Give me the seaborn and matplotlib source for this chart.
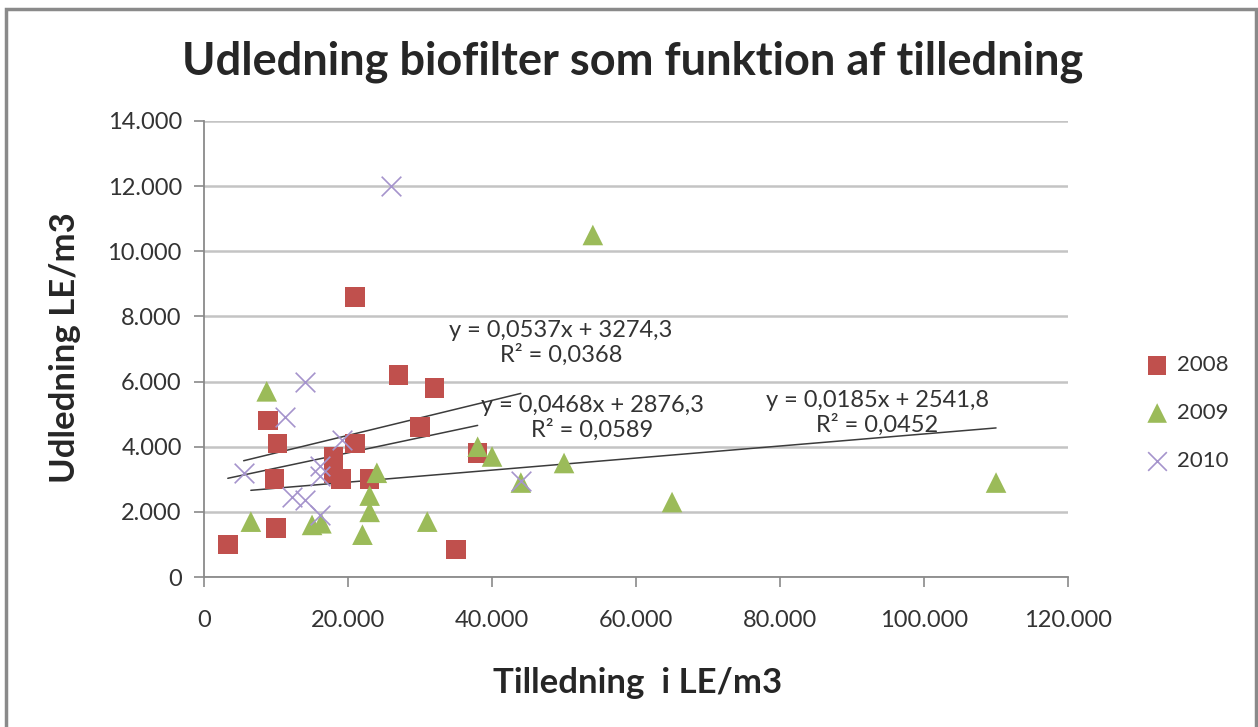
import numpy as np
import pandas as pd
import matplotlib
matplotlib.use("Agg")
import matplotlib.pyplot as plt
import seaborn as sns
from matplotlib.patches import Rectangle
from matplotlib.ticker import FuncFormatter

# punkter (tilledning, udledning) i LE/m3
x_2008 = [3300, 8900, 10200, 9800, 10000, 21000, 27000, 32000, 30000, 21000,
          18000, 18000, 19000, 23000, 35000, 38000]
y_2008 = [1000, 4800, 4100, 3000, 1500, 8600, 6200, 5800, 4600, 4100,
          3700, 3200, 3000, 3000, 850, 3800]

x_2009 = [8700, 6500, 15000, 16300, 24000, 23000, 23000, 22000, 31000, 54000,
          38000, 40000, 50000, 44000, 65000, 110000]
y_2009 = [5700, 1700, 1600, 1650, 3200, 2500, 2000, 1300, 1700, 10500,
          4000, 3700, 3500, 2900, 2300, 2900]

x_2010 = [26000, 14000, 11200, 5500, 19100, 16100, 16100, 12200, 14000, 16100, 44000]
y_2010 = [12000, 6000, 4900, 3200, 4200, 3400, 3100, 2450, 2350, 1900, 2950]

years = ["2008", "2009", "2010"]
slopes = [0.0468, 0.0185, 0.0537]
intercepts = [2876.3, 2541.8, 3274.3]
r2 = ["0,0589", "0,0452", "0,0368"]
eq_text = ["y = 0,0468x + 2876,3", "y = 0,0185x + 2541,8", "y = 0,0537x + 3274,3"]

df = pd.concat([
    pd.DataFrame({"x": x_2008, "y": y_2008, "aar": "2008"}),
    pd.DataFrame({"x": x_2009, "y": y_2009, "aar": "2009"}),
    pd.DataFrame({"x": x_2010, "y": y_2010, "aar": "2010"}),
])

sns.set_style("white")
plt.rcParams["font.family"] = ["Lato", "DejaVu Sans"]

fig = plt.figure(figsize=(12.58, 7.27), dpi=100)
ax = fig.add_axes([0.1622, 0.2063, 0.6868, 0.6273])

# ramme om hele diagrammet
fig.patches.append(Rectangle((6 / 1258, -0.02), 1250 / 1258, 1.0 - 9 / 727 + 0.02,
                             transform=fig.transFigure, fill=False,
                             edgecolor="#8a8a8a", linewidth=2.5))

ax.set_xlim(0, 120000)
ax.set_ylim(0, 14000)
ax.set_xticks(np.arange(0, 120001, 20000))
ax.set_yticks(np.arange(0, 14001, 2000))
ax.yaxis.grid(True, color="#c4c4c4", linewidth=1.8)
ax.set_axisbelow(True)

fmt = FuncFormatter(lambda v, p: f"{int(v):,}".replace(",", "."))
ax.xaxis.set_major_formatter(fmt)
ax.yaxis.set_major_formatter(fmt)

colors = {"2008": "#C0504D", "2009": "#9BBB59", "2010": "#A594CC"}

# trendlinjer
for yr, a, b in zip(years, slopes, intercepts):
    sub = df[df.aar == yr]
    xs = np.array([sub.x.min(), sub.x.max()])
    ax.plot(xs, a * xs + b, color="#3c3c3c", linewidth=1.1, zorder=3)

sns.scatterplot(data=df[df.aar == "2008"], x="x", y="y", marker="s", s=200,
                color=colors["2008"], edgecolor="none", label="2008", ax=ax, zorder=4)
sns.scatterplot(data=df[df.aar == "2009"], x="x", y="y", marker="^", s=220,
                color=colors["2009"], edgecolor="none", label="2009", ax=ax, zorder=4)
sns.scatterplot(data=df[df.aar == "2010"], x="x", y="y", marker="x", s=200,
                color=colors["2010"], linewidth=1.2, label="2010", ax=ax, zorder=5)

# ligninger
eq_pos = [(53900, 4877), (93470, 5035), (49580, 7185)]
for (px, py), e, r in zip(eq_pos, eq_text, r2):
    ax.text(px, py, e + "\nR² = " + r, ha="center", va="center", fontsize=17,
            color="#333333", linespacing=1.15, zorder=6)

for s in ["top", "right"]:
    ax.spines[s].set_visible(False)
ax.spines["left"].set_color("#8a8a8a")
ax.spines["bottom"].set_color("#8a8a8a")
ax.spines["left"].set_linewidth(1.3)
ax.spines["bottom"].set_linewidth(1.3)

ax.tick_params(axis="both", direction="out", length=7, width=1.2, color="#8a8a8a",
               labelsize=17, labelcolor="#333333", left=True, bottom=True)
ax.tick_params(axis="y", pad=9)
ax.tick_params(axis="x", pad=17)

ax.set_xlabel("Tilledning  i LE/m3", fontsize=25, fontweight="bold", va="center")
ax.set_ylabel("Udledning LE/m3", fontsize=25, fontweight="bold", va="center")
ax.xaxis.set_label_coords(0.502, -0.232)
ax.yaxis.set_label_coords(-0.161, 0.502)
fig.text(0.503, 0.915, "Udledning biofilter som funktion af tilledning",
         ha="center", va="center", fontsize=32.5, fontweight="bold")

ax.legend(loc="center left", bbox_to_anchor=(1.071, 0.36), frameon=False,
          fontsize=16, labelspacing=1.25, handlelength=1.5, handletextpad=0.15,
          borderpad=0, markerscale=0.95, labelcolor="#333333")

fig.savefig("out.png", dpi=100)
